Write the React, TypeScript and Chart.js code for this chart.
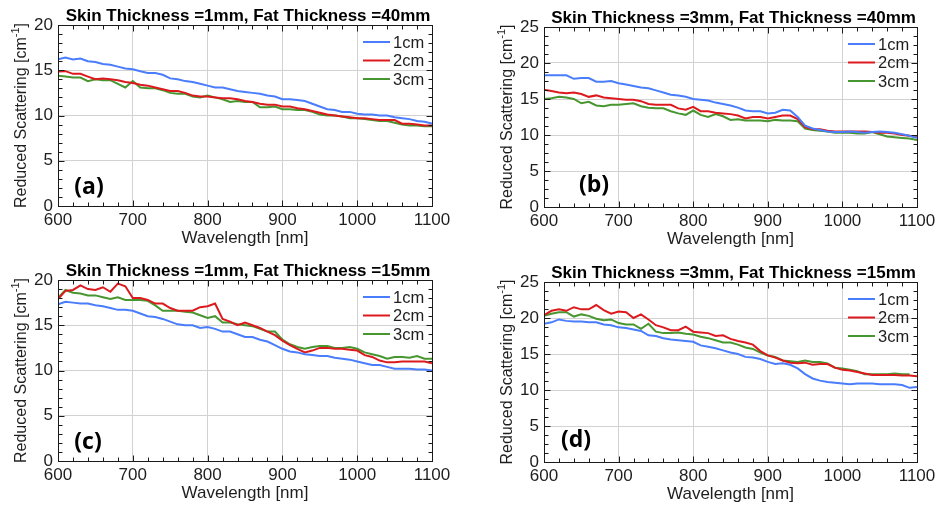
import React, { useEffect, useRef } from "react";
import { Chart, registerables } from "chart.js";

Chart.register(...registerables);

const WAVELENGTHS = [
  600, 610, 620, 630, 640, 650, 660, 670, 680, 690,
  700, 710, 720, 730, 740, 750, 760, 770, 780, 790,
  800, 810, 820, 830, 840, 850, 860, 870, 880, 890,
  900, 910, 920, 930, 940, 950, 960, 970, 980, 990,
  1000, 1010, 1020, 1030, 1040, 1050, 1060, 1070, 1080, 1090,
  1100,
];

const SERIES_LABELS = ["1cm", "2cm", "3cm"];
const X_TICKS = [600, 700, 800, 900, 1000, 1100];

// (a) Skin 1mm, Fat 40mm
const A_1CM = [
  16.2, 16.4, 16.2, 16.3, 16.0, 15.9, 15.7, 15.6, 15.4, 15.2,
  15.1, 14.9, 14.7, 14.7, 14.5, 14.1, 14.0, 13.8, 13.7, 13.5,
  13.3, 13.1, 13.1, 12.9, 12.7, 12.6, 12.5, 12.4, 12.2, 12.1,
  11.8, 11.8, 11.7, 11.6, 11.3, 11.0, 10.7, 10.6, 10.4, 10.4,
  10.2, 10.1, 10.1, 10.0, 10.0, 9.8, 9.7, 9.6, 9.4, 9.3,
  9.1,
];
const A_2CM = [
  14.85, 14.9, 14.6, 14.6, 14.3, 14.0, 14.1, 14.0, 13.9, 13.7,
  13.6, 13.4, 13.3, 13.1, 12.9, 12.7, 12.7, 12.5, 12.2, 12.1,
  12.1, 12.0, 11.9, 11.9, 11.8, 11.6, 11.5, 11.3, 11.2, 11.2,
  11.0, 11.0, 10.8, 10.7, 10.5, 10.3, 10.1, 10.0, 9.9, 9.8,
  9.7, 9.7, 9.6, 9.5, 9.5, 9.5, 9.1, 9.1, 9.0, 8.9,
  8.9,
];
const A_3CM = [
  14.4, 14.3, 14.2, 14.2, 13.8, 14.0, 13.9, 13.9, 13.5, 13.1,
  13.8, 13.1, 13.0, 13.0, 12.8, 12.5, 12.4, 12.4, 12.1, 12.0,
  12.2, 12.0, 11.8, 11.5, 11.6, 11.5, 11.5, 10.9, 10.9, 11.0,
  10.7, 10.7, 10.6, 10.6, 10.4, 10.1, 10.0, 10.0, 9.9, 9.7,
  9.7, 9.6, 9.5, 9.4, 9.4, 9.2, 9.0, 8.9, 8.9, 8.8,
  8.8,
];

// (b) Skin 3mm, Fat 40mm
const B_1CM = [
  18.3, 18.3, 18.3, 18.3, 17.8, 17.9, 17.9, 17.4, 17.4, 17.5,
  17.2, 17.0, 16.8, 16.6, 16.5, 16.2, 15.9, 15.6, 15.5, 15.3,
  15.0, 14.9, 14.8, 14.5, 14.3, 14.1, 13.8, 13.4, 13.3, 13.3,
  13.0, 13.1, 13.5, 13.4, 12.5, 11.3, 10.9, 10.7, 10.5, 10.4,
  10.4, 10.5, 10.4, 10.3, 10.4, 10.5, 10.4, 10.3, 10.1, 9.9,
  9.6,
];
const B_2CM = [
  16.3, 16.1, 15.9, 15.8, 15.9, 15.7, 15.3, 15.5, 15.2, 15.1,
  15.0, 14.9, 14.9, 14.7, 14.3, 14.2, 14.2, 14.2, 13.7, 13.5,
  13.9, 13.3, 13.3, 13.1, 13.0, 12.9, 12.7, 12.3, 12.5, 12.5,
  12.3, 12.5, 12.7, 12.7, 12.2, 11.1, 10.8, 10.8, 10.6, 10.5,
  10.5, 10.5, 10.5, 10.5, 10.4, 10.3, 10.3, 10.2, 10.0, 9.9,
  9.7,
];
const B_3CM = [
  15.0, 15.1, 15.3, 15.2, 15.0, 14.4, 14.6, 14.1, 14.0, 14.2,
  14.2, 14.3, 14.4, 14.0, 13.8, 13.7, 13.7, 13.3, 13.0, 12.8,
  13.4, 12.8, 12.5, 12.9, 12.6, 12.1, 12.2, 12.0, 12.0, 12.0,
  11.9, 12.1, 12.0, 12.0, 11.9, 10.9, 10.7, 10.6, 10.5, 10.3,
  10.3, 10.3, 10.2, 10.2, 10.4, 10.1, 9.8, 9.7, 9.6, 9.5,
  9.3,
];

// (c) Skin 1mm, Fat 15mm
const C_1CM = [
  17.3, 17.6, 17.5, 17.4, 17.4, 17.2, 17.1, 16.9, 16.7, 16.7,
  16.6, 16.3, 16.0, 15.9, 15.7, 15.4, 15.1, 15.0, 15.0, 14.7,
  14.8, 14.6, 14.3, 14.3, 14.0, 13.7, 13.7, 13.4, 13.2, 12.8,
  12.4, 12.1, 12.0, 11.8, 11.7, 11.6, 11.6, 11.4, 11.3, 11.2,
  11.0, 10.8, 10.6, 10.6, 10.4, 10.2, 10.2, 10.2, 10.1, 10.1,
  10.0,
];
const C_2CM = [
  17.9, 18.8, 18.9, 19.4, 19.0, 18.9, 19.2, 18.7, 19.6, 19.3,
  18.0, 18.0, 17.8, 17.4, 17.4, 16.9, 16.6, 16.6, 16.6, 17.0,
  17.1, 17.4, 15.7, 15.4, 15.0, 15.3, 15.0, 14.7, 14.3, 13.9,
  13.3, 12.8, 12.4, 12.0, 12.2, 12.5, 12.5, 12.4, 12.4, 12.3,
  12.2, 11.7, 11.5, 11.1, 10.9, 10.9, 11.0, 11.0, 11.0, 11.0,
  10.8,
];
const C_3CM = [
  18.0, 18.9, 18.6, 18.5, 18.3, 18.3, 18.1, 17.9, 18.1, 17.8,
  17.8, 17.8, 17.7, 17.2, 16.6, 16.6, 16.6, 16.5, 16.4, 16.1,
  15.8, 16.0, 15.3, 15.3, 15.1, 15.0, 14.9, 14.6, 14.3, 14.3,
  13.4, 12.9, 12.6, 12.4, 12.6, 12.7, 12.7, 12.5, 12.5, 12.6,
  12.4, 12.0, 11.8, 11.6, 11.3, 11.5, 11.5, 11.4, 11.6, 11.3,
  11.3,
];

// (d) Skin 3mm, Fat 15mm
const D_1CM = [
  19.2, 19.4, 19.8, 19.6, 19.5, 19.5, 19.4, 19.4, 19.1, 19.0,
  18.7, 18.6, 18.4, 18.2, 17.6, 17.5, 17.2, 17.0, 16.9, 16.8,
  16.7, 16.2, 16.0, 15.8, 15.5, 15.2, 15.0, 14.6, 14.5, 14.3,
  13.9, 13.6, 13.7, 13.5, 13.0, 12.2, 11.6, 11.3, 11.1, 11.0,
  10.9, 10.8, 10.9, 10.9, 10.9, 10.8, 10.8, 10.8, 10.7, 10.3,
  10.4,
];
const D_2CM = [
  20.4, 21.0, 21.2, 21.0, 21.5, 21.2, 21.2, 21.8, 21.1, 20.6,
  20.9, 20.8, 20.0, 20.5, 19.8, 19.0, 18.7, 18.3, 18.3, 18.8,
  18.1, 18.0, 17.9, 17.5, 17.6, 17.1, 16.8, 16.6, 16.3, 15.4,
  14.8, 14.5, 14.1, 13.8, 13.7, 13.8, 13.5, 13.6, 13.6, 13.1,
  12.8, 12.7, 12.5, 12.3, 12.1, 12.1, 12.1, 12.1, 12.0, 12.0,
  11.9,
];
const D_3CM = [
  20.3, 20.6, 20.8, 20.8, 20.2, 20.5, 20.3, 19.9, 19.7, 19.8,
  19.3, 19.1, 19.1, 18.5, 19.2, 18.1, 17.9, 17.9, 18.0, 17.8,
  17.7, 17.4, 17.2, 16.9, 16.6, 16.6, 16.3, 15.9, 15.7, 15.2,
  14.8, 14.6, 14.1, 14.0, 13.9, 14.1, 13.9, 13.9, 13.7, 13.1,
  13.0, 12.8, 12.6, 12.2, 12.2, 12.2, 12.2, 12.3, 12.2, 12.2,
  null,
];

const COLORS = ["#4a7dfc", "#dc1a1e", "#47962f"];
const FONT = "'Liberation Sans', Arial, sans-serif";
const TEXT = "#1e1e1e";

const PANELS = [
  { title: "Skin Thickness =1mm, Fat Thickness =40mm", tag: "(a)", yMax: 20, yMinor: 1, series: [A_1CM, A_2CM, A_3CM],
    box: { left: 0, top: 0, w: 470, h: 253 }, plot: { L: 58, R: 432, T: 25, B: 206 }, tagDx: 31, tagDy: 19 },
  { title: "Skin Thickness =3mm, Fat Thickness =40mm", tag: "(b)", yMax: 25, yMinor: 1.25, series: [B_1CM, B_2CM, B_3CM],
    box: { left: 470, top: 0, w: 470, h: 253 }, plot: { L: 74, R: 447, T: 27, B: 207 }, tagDx: 50, tagDy: 22 },
  { title: "Skin Thickness =1mm, Fat Thickness =15mm", tag: "(c)", yMax: 20, yMinor: 1, series: [C_1CM, C_2CM, C_3CM],
    box: { left: 0, top: 253, w: 470, h: 252 }, plot: { L: 58, R: 432, T: 27, B: 208 }, tagDx: 30, tagDy: 19 },
  { title: "Skin Thickness =3mm, Fat Thickness =15mm", tag: "(d)", yMax: 25, yMinor: 1.25, series: [D_1CM, D_2CM, D_3CM],
    box: { left: 470, top: 253, w: 470, h: 252 }, plot: { L: 74, R: 447, T: 29, B: 209 }, tagDx: 32, tagDy: 22 },
];

const decorPlugin = {
  id: "decor",
  afterDatasetsDraw(chart: any, _args: any, opts: any) {
    const { ctx, chartArea: a, scales } = chart;
    const xs = scales.x;
    const ys = scales.y;
    ctx.save();

    // frame
    ctx.strokeStyle = "#1a1a1a";
    ctx.lineWidth = 1;
    const l = Math.round(a.left) + 0.5;
    const t = Math.round(a.top) + 0.5;
    const r = Math.round(a.right) + 0.5;
    const b = Math.round(a.bottom) + 0.5;
    ctx.strokeRect(l, t, r - l, b - t);

    // inward ticks on all sides
    ctx.beginPath();
    const nx = Math.round((xs.max - xs.min) / opts.xMinor);
    for (let i = 0; i <= nx; i++) {
      const v = xs.min + i * opts.xMinor;
      const px = Math.round(xs.getPixelForValue(v)) + 0.5;
      const major = Math.abs(v / 100 - Math.round(v / 100)) < 1e-6;
      const len = major ? 6 : 4;
      ctx.moveTo(px, b);
      ctx.lineTo(px, b - len);
      ctx.moveTo(px, t);
      ctx.lineTo(px, t + len);
    }
    const ny = Math.round((ys.max - ys.min) / opts.yMinor);
    for (let i = 0; i <= ny; i++) {
      const v = ys.min + i * opts.yMinor;
      const py = Math.round(ys.getPixelForValue(v)) + 0.5;
      const major = Math.abs(v / 5 - Math.round(v / 5)) < 1e-6;
      const len = major ? 6 : 4;
      ctx.moveTo(l, py);
      ctx.lineTo(l + len, py);
      ctx.moveTo(r, py);
      ctx.lineTo(r - len, py);
    }
    ctx.stroke();

    // legend
    ctx.font = `16.5px ${FONT}`;
    ctx.textBaseline = "middle";
    ctx.textAlign = "left";
    chart.data.datasets.forEach((ds: any, i: number) => {
      const y = a.top + 17 + i * 18.5;
      ctx.strokeStyle = ds.borderColor;
      ctx.lineWidth = 2;
      ctx.beginPath();
      ctx.moveTo(a.right - 69, y);
      ctx.lineTo(a.right - 42, y);
      ctx.stroke();
      ctx.fillStyle = TEXT;
      ctx.fillText(ds.label, a.right - 39, y + 1);
    });

    // panel tag
    ctx.font = `bold 23px 'Open Sans', ${FONT}`;
    ctx.textAlign = "center";
    ctx.fillStyle = "#000";
    ctx.fillText(opts.tag, a.left + opts.tagDx, a.bottom - opts.tagDy);

    // title
    ctx.font = `bold 17px ${FONT}`;
    ctx.fillStyle = "#000";
    ctx.textAlign = "center";
    ctx.textBaseline = "middle";
    ctx.fillText(opts.title, (a.left + a.right) / 2 + 3, a.top - 9);

    // y title with superscript
    const cx = a.left - 36;
    const cy = (a.top + a.bottom) / 2;
    ctx.translate(cx, cy);
    ctx.rotate(-Math.PI / 2);
    const main = "Reduced Scattering [cm";
    const sup = "-1";
    const end = "]";
    ctx.font = `16px ${FONT}`;
    const w1 = ctx.measureText(main).width;
    const w3 = ctx.measureText(end).width;
    ctx.font = `11px ${FONT}`;
    const w2 = ctx.measureText(sup).width;
    const x0 = -(w1 + w2 + w3) / 2;
    ctx.fillStyle = TEXT;
    ctx.textAlign = "left";
    ctx.textBaseline = "middle";
    ctx.font = `16px ${FONT}`;
    ctx.fillText(main, x0, 0);
    ctx.font = `11px ${FONT}`;
    ctx.fillText(sup, x0 + w1, -6);
    ctx.font = `16px ${FONT}`;
    ctx.fillText(end, x0 + w1 + w2, 0);

    ctx.restore();
  },
};

function Panel({ cfg }: { cfg: any }) {
  const ref = useRef<HTMLCanvasElement | null>(null);
  useEffect(() => {
    if (!ref.current) return;
    const { box, plot } = cfg;
    const xTitlePad = box.h - (plot.B + 32) - 10.2;
    const chart = new Chart(ref.current, {
      type: "line",
      data: {
        datasets: cfg.series.map((vals: (number | null)[], i: number) => ({
          label: SERIES_LABELS[i],
          data: WAVELENGTHS.map((w, k) => ({ x: w, y: vals[k] })),
          borderColor: COLORS[i],
          backgroundColor: COLORS[i],
          borderWidth: 2,
          pointRadius: 0,
          fill: false,
          tension: 0,
          spanGaps: false,
        })),
      },
      options: {
        responsive: false,
        animation: false,
        devicePixelRatio: 1,
        layout: { padding: { top: plot.T, right: box.w - plot.R, left: 0, bottom: 0 } },
        plugins: {
          legend: { display: false },
          tooltip: { enabled: false },
          title: { display: false },
          decor: { tag: cfg.tag, title: cfg.title, xMinor: 20, yMinor: cfg.yMinor, tagDx: cfg.tagDx, tagDy: cfg.tagDy },
        } as any,
        scales: {
          x: {
            type: "linear",
            min: 600,
            max: 1100,
            afterFit: (s: any) => { s.height = box.h - plot.B; },
            afterBuildTicks: (s: any) => { s.ticks = X_TICKS.map((v) => ({ value: v })); },
            ticks: {
              padding: 4,
              maxRotation: 0,
              autoSkip: false,
              color: TEXT,
              font: { family: FONT, size: 17 },
              callback: (v: any) => String(v),
            },
            grid: { color: "#d2d2d2", lineWidth: 1, drawTicks: false },
            border: { display: false },
            title: {
              display: true,
              text: "Wavelength [nm]",
              color: TEXT,
              font: { family: FONT, size: 17 },
              padding: { top: 0, bottom: xTitlePad },
            },
          },
          y: {
            type: "linear",
            min: 0,
            max: cfg.yMax,
            afterFit: (s: any) => { s.width = plot.L; },
            ticks: {
              stepSize: 5,
              padding: 5,
              color: TEXT,
              font: { family: FONT, size: 17 },
              callback: (v: any) => String(v),
            },
            grid: { color: "#d2d2d2", lineWidth: 1, drawTicks: false },
            border: { display: false },
          },
        },
      },
      plugins: [decorPlugin],
    });
    return () => chart.destroy();
  }, [cfg]);
  return (
    <canvas
      ref={ref}
      width={cfg.box.w}
      height={cfg.box.h}
      style={{ position: "absolute", left: cfg.box.left, top: cfg.box.top, width: cfg.box.w, height: cfg.box.h }}
    />
  );
}

export default function App() {
  return (
    <div style={{ position: "absolute", left: 0, top: 0, width: 940, height: 505, background: "#fff", overflow: "hidden" }}>
      {PANELS.map((p) => (
        <Panel key={p.tag} cfg={p} />
      ))}
    </div>
  );
}
